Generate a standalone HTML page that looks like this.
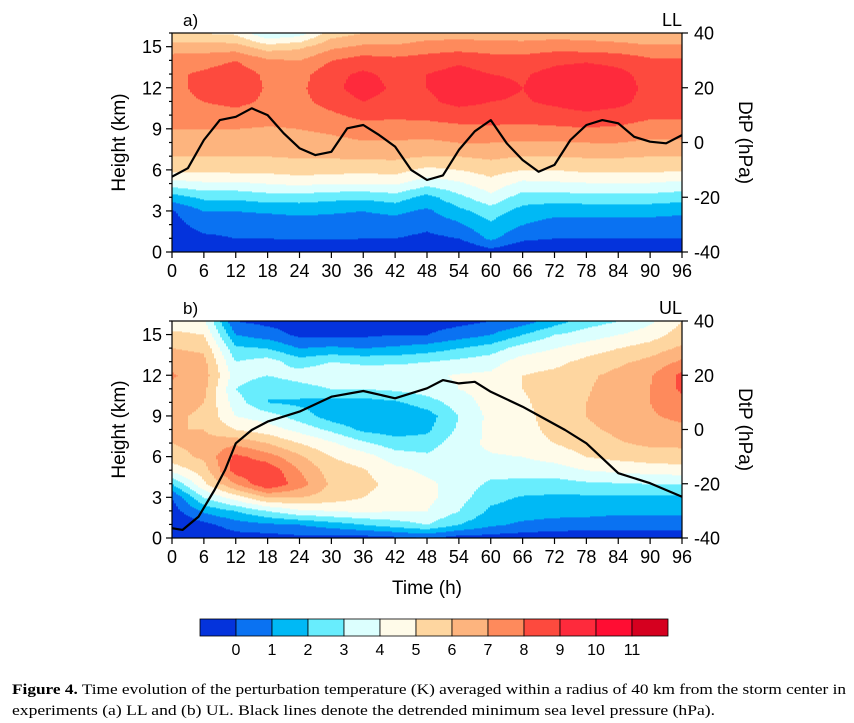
<!DOCTYPE html>
<html><head><meta charset="utf-8"><style>
html,body{margin:0;padding:0;background:#fff;}
svg{display:block;font-family:"Liberation Sans",sans-serif;}
</style></head><body>
<svg id="fig" width="854" height="723" viewBox="0 0 854 723" xmlns="http://www.w3.org/2000/svg">
<g id="pa"></g>
<g id="pb"></g>
<g id="cbar"></g>
<text x="427" y="594" font-size="19" text-anchor="middle">Time (h)</text>
<text x="12" y="694" font-family="Liberation Serif, serif" font-size="15" textLength="834" lengthAdjust="spacingAndGlyphs"><tspan font-weight="bold">Figure 4.</tspan> Time evolution of the perturbation temperature (K) averaged within a radius of 40 km from the storm center in</text>
<text x="12" y="715" font-family="Liberation Serif, serif" font-size="15" textLength="703" lengthAdjust="spacingAndGlyphs">experiments (a) LL and (b) UL. Black lines denote the detrended minimum sea level pressure (hPa).</text>
</svg>
<script>
const levelColors=["#0433dc","#0a72f2","#00b9f5","#68edfd","#dcfffe","#fffbe9","#fed6a0","#fdb47e","#fe8a5c","#fd4a3e","#fe2a3c","#ff0d33","#d5001f"];
const levelLabels=[0,1,2,3,4,5,6,7,8,9,10,11];
const gridTimes=[0,6,12,18,24,30,36,42,48,54,60,66,72,78,84,90,96];
const gridHeights=[0,1,2,3,4,5,6,7,8,9,10,11,12,13,14,15,16];
const tempLL=[
[-2,-1,-0.5,-0.1,1.5,3.5,5.3,6,6.5,7,7.5,7.8,7.8,7.8,7.5,6.5,5],
[-1.5,-0.3,0.5,1,2.2,3.8,5.2,6,6.6,7,7.5,8,8.2,8.2,7.6,6.5,5],
[-1.5,0,0.5,1,2.2,3.8,5.3,6,6.5,7,7.6,8.3,8.6,8.6,8.0,6.5,4.8],
[-1.5,0,0.5,1.1,2.5,4,5.3,6,6.5,6.9,7.4,7.8,7.9,7.8,7.2,5.5,3],
[-1.3,0.1,0.6,1.2,2.5,4.2,5.5,6.1,6.6,7,7.4,7.7,7.8,7.6,7.0,5.8,3.5],
[-1.3,0.1,0.6,1.1,2.3,4,5.4,6.1,6.7,7.2,7.8,8.4,8.7,8.7,8,6.8,5.5],
[-1.3,0,0.5,1,2.2,4,5.3,6.2,6.9,7.5,8.3,9,9.5,9.2,8.5,7.2,6],
[-1.2,0,0.6,1.2,2.5,4.1,5.4,6.2,6.9,7.5,8.2,8.6,8.8,8.7,8.3,7.2,6],
[-1,-0.3,0.3,0.8,1.6,3.3,4.7,6,6.8,7.5,8.3,8.8,9,9,8.5,7.5,6.5],
[-1.2,0,0.8,1.7,2.7,3.8,5,6,7,7.7,8.5,9.3,9.5,9.4,8.8,7.6,6.5],
[-0.5,1.2,1.8,2.5,3.7,4.6,5.4,6.2,7,7.8,8.5,9,9.3,9,8.5,7.5,6.5],
[-1,0.2,1,1.6,2.5,3.7,5,6,6.9,7.7,8.5,8.9,9,8.9,8.5,7.4,6.5],
[-1.3,0,0.6,1.3,2.5,3.8,5,6,6.9,7.8,8.6,9.2,9.4,9.3,8.8,7.6,6.5],
[-1.2,0,0.6,1.3,2.6,3.9,5.2,6.1,7,7.9,8.8,9.5,9.8,9.6,8.9,7.5,6.5],
[-1.2,0,0.6,1.3,2.6,3.9,5.2,6.1,7,7.8,8.6,9.3,9.5,9.3,8.7,7.4,6.3],
[-1.2,0,0.6,1.3,2.6,3.9,5.2,6,6.8,7.5,8.2,8.6,8.7,8.6,8.2,7.2,6],
[-1.2,0,0.5,1.2,2.4,3.7,5.1,6,6.8,7.5,8.2,8.5,8.6,8.6,8.2,7.2,6]];
const tempUL=[
[-1,-1,-0.5,0,2,4.3,5.6,6,6,6.2,6.5,6.8,7.1,6.7,6,5.3,4.3],
[-1,-0.3,1.2,3,4.8,5.5,6.2,6.3,6,5.8,6,6.3,6.5,6.3,5.8,5,4.2],
[-0.5,0.5,2,4.5,7,8.5,8.3,6.8,5,4,3.5,3,3.5,3,2.2,1,0],
[-0.5,0.8,3,6,9,8.8,7.5,6,4.5,3.5,2,2,3,3.5,2,0.5,-0.3],
[-0.3,1,3.8,6,7.5,7,6.2,5,3.7,2.5,1.8,2.5,3.5,2.5,1,-0.2,-0.5],
[-0.5,1.5,4,5.5,5.8,5.5,5,4.2,2.8,1.5,1.5,3,3.8,3,1.2,-0.2,-0.5],
[-0.5,2,4.2,5,5.3,5.1,4.5,3.2,1.8,1,1.5,3,3.7,2.8,1,-0.2,-0.5],
[-0.3,2.5,4,4.5,4.7,4.3,3.5,2.5,1.5,1,1.8,3.2,3.8,2.8,1.2,0,-0.5],
[0,3,4,4.3,4.2,3.8,3.2,2.5,1.8,1.5,2.5,3.5,3.8,3,1.5,0,-0.5],
[-0.5,2,3,3.4,3.6,3.8,3.8,3.6,3.2,3,3.5,4,4.1,3.3,2,0.5,-0.3],
[-0.5,1.2,1.8,2.3,2.8,3.4,3.9,4.2,4.3,4.3,4.4,4.4,4.2,3.6,2.5,1,0],
[-0.6,0.8,1.5,1.9,2.7,3.4,4,4.4,4.5,4.6,4.8,5,5,4.5,3.5,2,0.5],
[-0.7,0.6,1.4,1.8,2.6,3.5,4.4,5,5.4,5.6,5.6,5.5,5.3,4.7,4,3,1.5],
[-0.8,0.6,1.3,1.8,2.8,4,5,5.5,5.8,6,6,5.9,5.8,5.3,4.5,3.5,2.5],
[-0.8,0.5,1.2,1.8,2.9,4.2,5.3,5.9,6.2,6.5,6.5,6.5,6.3,5.8,5,4,3],
[-0.8,0.5,1.2,1.8,3,4.4,5.5,6.2,6.6,6.9,7,7,6.9,6.3,5.5,4.5,3.8],
[-0.8,0.5,1.2,1.8,3,4.5,5.6,6.2,6.8,7.2,7.6,8.2,8.3,7.2,6.2,5.5,5]];
const lineTimesLL=[0,3,6,9,12,15,18,21,24,27,30,33,36,39,42,45,48,51,54,57,60,63,66,69,72,75,78,81,84,87,90,93,96];
const dtpLL=[-12.5,-9.4,0.9,8.2,9.4,12.5,10,3.4,-2.1,-4.6,-3.4,5.2,6.4,2.7,-1.5,-10,-13.7,-12,-2.7,4.1,8.2,-0.3,-6.4,-10.7,-8.2,0.9,6.4,8.2,7,2.1,0.3,-0.3,2.7];
const lineTimesUL=[0,2,5,8,10,12,15,18,24,30,36,42,48,51,54,57,60,66,70,74,78,84,90,96];
const dtpUL=[-36.4,-37,-32.1,-22.3,-14.9,-5.1,-0.2,2.9,6.6,12.1,14.2,11.5,15.2,18.2,17,17.6,13.9,8.4,4.1,-0.2,-5.1,-16.1,-19.8,-24.8];
const xTicks=[0,6,12,18,24,30,36,42,48,54,60,66,72,78,84,90,96];
const yTicks=[0,3,6,9,12,15];
const rTicks=[-40,-20,0,20,40];

const NS="http://www.w3.org/2000/svg";
function mk(tag,attrs,parent){const e=document.createElementNS(NS,tag);for(const k in attrs)e.setAttribute(k,attrs[k]);parent.appendChild(e);return e;}
function colorIndex(v){let i=0;while(i<levelLabels.length&&v>=levelLabels[i])i++;return i;}
function sample(grid,t,z){
  let i=Math.min(gridTimes.length-2,Math.floor(t/6)); let ft=(t-gridTimes[i])/6;
  let j=Math.min(gridHeights.length-2,Math.floor(z)); let fz=z-gridHeights[j];
  const a=grid[i][j],b=grid[i+1][j],c=grid[i][j+1],d=grid[i+1][j+1];
  return (a*(1-ft)+b*ft)*(1-fz)+(c*(1-ft)+d*ft)*fz;
}
function panel(g,grid,times,dtp,top,bot,letter,tag){
  const x0=172,x1=682;
  const X=t=>x0+(t/96)*(x1-x0);
  const Y=z=>bot-(z/16)*(bot-top);
  const R=p=>bot-((p+40)/80)*(bot-top);
  const field=mk('g',{},g);
  
  
  const step=2;
  for(let px=x0;px<x1;px+=step){
    const t=((px+step/2)-x0)/(x1-x0)*96;
    let runStart=bot,runCol=-1;
    for(let py=bot;py>=top-0.01;py-=1){
      const z=Math.max(0,Math.min(16,(bot-(py-0.5))/(bot-top)*16));
      const ci=py<=top?-2:colorIndex(sample(grid,t,z));
      if(ci!==runCol){
        if(runCol>=0){const r=mk('rect',{x:px,y:py,width:step+0.4,height:runStart-py+0.4,fill:levelColors[runCol]},field);
          
          }
        runStart=py;runCol=ci;
      }
    }
  }
  let d='';
  times.forEach((t,k)=>{d+=(k?'L':'M')+X(t).toFixed(1)+' '+R(dtp[k]).toFixed(1);});
  const ln=mk('path',{d:d,fill:'none',stroke:'#000','stroke-width':2.2,'stroke-linejoin':'round'},g);
  
  
  const fr=mk('rect',{x:x0,y:top,width:x1-x0,height:bot-top,fill:'none',stroke:'#000','stroke-width':1.2},g);
  
  
  xTicks.forEach(t=>{
    mk('line',{x1:X(t),x2:X(t),y1:bot,y2:bot+6,stroke:'#000','stroke-width':1.2},g);
    const tx=mk('text',{x:X(t),y:bot+25,'font-size':18,'text-anchor':'middle'},g);
    tx.textContent=t;
    
    
  });
  for(let z=0;z<=16;z++){mk('line',{x1:x0,x2:x0-(z%3===0?6:3),y1:Y(z),y2:Y(z),stroke:'#000','stroke-width':1.2},g);}
  yTicks.forEach(z=>{
    const tx=mk('text',{x:x0-10,y:Y(z)+6.5,'font-size':18,'text-anchor':'end'},g);
    tx.textContent=z;
    
    
  });
  rTicks.forEach(p=>{
    mk('line',{x1:x1,x2:x1+6,y1:R(p),y2:R(p),stroke:'#000','stroke-width':1.2},g);
    const tx=mk('text',{x:x1+12,y:R(p)+6.5,'font-size':18},g);
    tx.textContent=p;
    
    
  });
  const cy=(top+bot)/2;
  const yl=mk('text',{x:0,y:0,'font-size':19,'text-anchor':'middle',transform:`translate(125 ${cy}) rotate(-90)`},g);
  yl.textContent='Height (km)';
  
  
  const rl=mk('text',{x:0,y:0,'font-size':19,'text-anchor':'middle',transform:`translate(739 ${cy}) rotate(90)`},g);
  rl.textContent='DtP (hPa)';
  
  
  const pl=mk('text',{x:183,y:top-7,'font-size':17},g);
  pl.textContent=letter;
  
  
  const tg=mk('text',{x:682,y:top-7,'font-size':18,'text-anchor':'end'},g);
  tg.textContent=tag;
  
  
}
panel(document.getElementById('pa'),tempLL,lineTimesLL,dtpLL,33,252,'a)','LL');
panel(document.getElementById('pb'),tempUL,lineTimesUL,dtpUL,321,538,'b)','UL');
const cb=document.getElementById('cbar');
const cbx0=200,cbx1=668,cbt=619,cbb=636,bw=(cbx1-cbx0)/levelColors.length;
levelColors.forEach((c,i)=>{
  const r=mk('rect',{x:cbx0+i*bw,y:cbt,width:bw,height:cbb-cbt,fill:c,stroke:'#000','stroke-width':0.8},cb);
  
  
});
levelLabels.forEach((l,i)=>{
  const tx=mk('text',{x:cbx0+(i+1)*bw,y:655,'font-size':16,'text-anchor':'middle'},cb);
  tx.textContent=l;
  
  
});
</script>
</body></html>
